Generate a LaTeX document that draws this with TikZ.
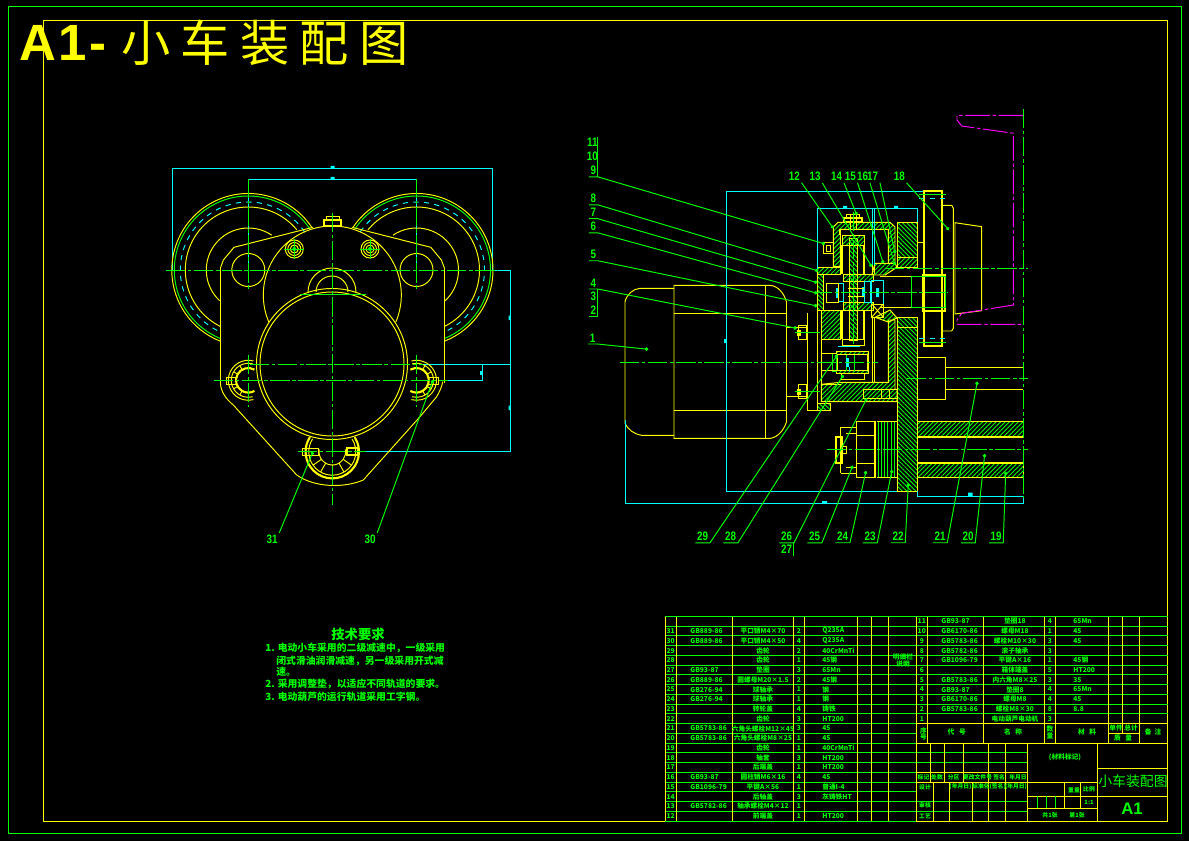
\documentclass[tikz,border=0pt]{standalone}
\usepackage{fontspec}
\setmainfont{Liberation Sans}
\newfontfamily\cjk{Noto Sans CJK SC}
\newfontfamily\labelfont[FakeStretch=0.8]{Liberation Sans}
\usetikzlibrary{arrows.meta, patterns.meta}
\definecolor{cadyellow}{HTML}{FFFF00}
\definecolor{cadgreen}{HTML}{00FF00}
\definecolor{cadcyan}{HTML}{00FFFF}
\definecolor{cadmagenta}{HTML}{FF00FF}
\tikzset{
  part/.style={draw=cadyellow, line width=.55pt},
  partthick/.style={draw=cadyellow, line width=1.2pt},
  cline/.style={draw=cadgreen, line width=.55pt, dash pattern=on 11pt off 1.5pt on 2pt off 1.5pt},
  thin line/.style={draw=cadgreen, line width=.55pt},
  dimline/.style={draw=cadcyan, line width=.55pt},
  hatchgreen/.style={pattern={Lines[angle=45,distance=1.8pt,line width=.5pt]}, pattern color=cadgreen, draw=cadyellow, line width=.55pt},
  hatchback/.style={pattern={Lines[angle=-45,distance=1.8pt,line width=.5pt]}, pattern color=cadgreen, draw=cadyellow, line width=.55pt},
  leader/.style={draw=cadgreen, line width=.55pt, -{Circle[length=2pt,width=2pt]}},
  labelnum/.style={text=cadgreen, inner sep=.8pt, font=\labelfont\bfseries\fontsize{7}{7}\selectfont},
  tabtext/.style={text=cadgreen, inner sep=0, font=\cjk\bfseries\fontsize{3.8}{4}\selectfont},
  blocktext/.style={text=cadgreen, inner sep=0, font=\cjk\bfseries\fontsize{3.3}{4}\selectfont},
  reqtext/.style={text=cadgreen, inner sep=0, anchor=west, font=\cjk\bfseries\fontsize{5.6}{6}\selectfont}
}
% arc about a centre: cx, cy, radius, start, end
\newcommand{\arcat}[6][part]{\draw[#1] ([shift={(#5:#4)}]#2,#3) arc[start angle=#5, end angle=#6, radius=#4];}
\begin{document}
\begin{tikzpicture}[x=0.02cm, y=-0.02cm]
  \useasboundingbox (0,0) rectangle (1189,841);
  \fill[black] (0,0) rectangle (1189,841);

  % Frames
  \draw[thin line] (8,6.5) rectangle (1181,833);
  \draw[part] (43,20) rectangle (1167.5,821);

  % Sheet title
  \node[text=cadyellow, anchor=west, inner sep=0, font=\bfseries\fontsize{29}{29}\selectfont\addfontfeature{LetterSpace=5}] (sheetcode) at (19,43) {A1-};
  \node[text=cadyellow, anchor=west, inner sep=0, font=\cjk\fontsize{28}{28}\selectfont\addfontfeature{LetterSpace=21}] (sheettitle) at (121,43) {小车装配图};

  % ---- Left view ----
  % Dimensions
  \draw[dimline] (172.3,270) -- (172.3,168.3) -- (492.7,168.3) -- (492.7,270) -- (510.7,270) -- (510.7,451.7) -- (366,451.7);
  \draw[dimline] (248.3,270) -- (248.3,179) -- (416.7,179) -- (416.7,270);
  \draw[dimline] (423,364.3) -- (511,364.3);
  \draw[dimline] (443,380.3) -- (482.3,380.3) -- (482.3,364.3);
  \fill[cadcyan] (330.5,166) rectangle (334.5,168.3) (330.5,177) rectangle (334.5,179);
  \fill[cadcyan] (508.5,315.5) rectangle (510.7,320) (508.5,405.5) rectangle (510.7,410);
  \fill[cadcyan] (480,370.5) rectangle (482.3,374.5);

  % Wheels, mirrored about the axis
  \foreach \mir in {1,-1} {
    \begin{scope}[shift={(332.4,0)}, xscale=\mir]
      \arcat{-84.1}{270}{76.5}{-34}{-248.5}
      \arcat[draw=cadgreen, line width=.55pt]{-84.1}{270}{74}{-33}{-248}
      \arcat[draw=cadcyan, line width=.55pt, dashed]{-84.1}{270}{68}{-34}{-246.5}
      \arcat{-84.1}{270}{63}{-39.6}{-243.4}
      \arcat{-84.1}{270}{42}{-56}{-227}
      \draw[part] (-84.1,270) circle[radius=16.5];
      % Arm to the body
      \draw[part] (-19.4,227.3) -- (-98.4,247.3) -- (-109,260) -- (-112,268);
      % Plate edge
      \draw[part] (-112,268.3) -- (-112,383);
      \draw[cline] (-84.1,179) -- (-84.1,290);
      % Lug
      \draw[part] (-84.1,380.3) ++(-75:20) arc[start angle=-75, end angle=-285, radius=20];
      \draw[part] (-84.1,380.3) ++(-75:17) arc[start angle=-75, end angle=-285, radius=17];
      \draw[partthick] (-84.1,380.3) ++(-60:12.3) arc[start angle=-60, end angle=-300, radius=12.3];
      \foreach \a in {-150,-120,120,150,90,-90} {
        \draw[part] ([shift={(\a:12.3)}]-84.1,380.3) -- ([shift={(\a:17)}]-84.1,380.3);
      }
      \draw[part] (-106,377) rectangle (-96,384);
      \draw[cline] (-84.1,355) -- (-84.1,406.7);
    \end{scope}
  }

  % Body outline
  \draw[part] (220.3,383) .. controls (221,392) and (226,399) .. (233.3,405) -- (296.7,475);
  \draw[part] (296.7,475) .. controls (315,488) and (345,488) .. (363.3,480) -- (420,416.7) -- (436.7,396.7) .. controls (440,391) and (442,386) .. (442.7,381.7);
  \arcat{332.3}{295}{69}{23}{-203}

  % Central drum
  \draw[part] (332,364) circle[radius=75.5];
  \draw[part] (332,364) circle[radius=72];
  \arcat{332}{292}{24}{-180}{0}
  \arcat{332}{292}{16}{-180}{0}
  \draw[thin line] (300,294) -- (366,294);

  % Top bolt
  \draw[partthick] (324,220) rectangle (340.7,226);
  \draw[part] (326,216) rectangle (339,220);

  % Cover bolts
  \foreach \bx in {294.3,370} {
    \draw[part] (\bx,249) circle[radius=9];
    \draw[part] (\bx,249) circle[radius=6.5];
    \draw[part] (\bx,249) circle[radius=4];
    \fill[cadgreen] (\bx,249) circle[radius=2];
    \draw[thin line] (\bx-10,249) -- (\bx+10,249) (\bx,239) -- (\bx,259);
  }

  % Bottom lug
  \arcat[partthick]{332.3}{451.7}{26.7}{-33}{213}
  \arcat{332.3}{451.7}{23.5}{-33}{213}
  \arcat{332.3}{451.7}{13.3}{-10}{190}
  \foreach \a in {35,60,90,120,145} {
    \draw[part] ([shift={(\a:13.3)}]332.3,451.7) -- ([shift={(\a:23.5)}]332.3,451.7);
  }
  \draw[part] (302,448) rectangle (318,455);
  \draw[partthick] (347,448) rectangle (358,455);

  % Centre lines
  \draw[cline] (166,270) -- (498,270);
  \draw[cline] (332.3,213) -- (332.3,505);
  \draw[cline] (250,364.3) -- (423,364.3);
  \draw[cline] (214,380.3) -- (448,380.3);
  \draw[cline] (298,451.7) -- (366,451.7);

  % ---- Right view ----
  % Motor
  \draw[part] (625,423) -- (625,301.7) .. controls (627,294) and (633,289) .. (640,288.3) -- (674,288.3);
  \draw[part] (625,423) .. controls (628,430) and (634,434) .. (641.7,435.3) -- (674,435.3);
  \draw[part] (674,285.3) -- (770,285.3) .. controls (778,286) and (784,293) .. (786.5,302) -- (786.5,421.7) .. controls (784,430) and (778,437) .. (770.7,438.3) -- (674,438.3) -- cycle;
  \draw[part] (674,313.3) -- (786.5,313.3) (674,410.3) -- (786.5,410.3) (765.3,285.3) -- (765.3,438.3);

  % Right plate and shaft bars
  \path[hatchback] (897,222.3) rectangle (917.3,257.3);
  \path[hatchgreen] (897,257.3) rectangle (917.3,267.3);
  \path[hatchback] (897,317.3) rectangle (917.3,327.3);
  \path[hatchback] (897,327.3) rectangle (917.3,491.3);
  \path[hatchgreen] (917.3,421.7) rectangle (1023.3,436.7);
  \path[hatchgreen] (917.3,462.7) rectangle (1023.3,477.7);
  \draw[partthick] (917.3,436.7) -- (1023.3,436.7) (917.3,462.7) -- (1023.3,462.7);

  % Gear housing
  \path[hatchgreen] (833.3,266.7) -- (833.3,227) -- (838,222.3) -- (890,222.3) -- (895,227) -- (895,263.3) -- (888.3,263.3) -- (888.3,229.3) -- (840.3,229.3) -- (840.3,266.7) -- cycle;
  \path[hatchgreen] (817.3,267.3) rectangle (840,274);
  \path[hatchback] (817.3,274) rectangle (823.3,310.7);
  \path[hatchgreen] (821.3,310.7) rectangle (840.7,339.3);
  \path[hatchgreen] (888.3,320) -- (888.3,382.3) -- (840.7,382.3) -- (821.3,384.3) -- (821.3,401.7) -- (897,401.7) -- (897,389.3) -- (895,389.3) -- (895,320) -- cycle;
  \path[hatchback] (817.3,403) rectangle (830.7,410.7);
  \path[hatchgreen] (875,263.3) -- (895,263.3) -- (897,267.3) -- (885,275) -- (871.7,275) -- cycle;
  \path[hatchgreen] (875,317.3) -- (890,310) -- (897,318) -- (888.3,322) -- cycle;

  % Big gear
  \path[hatchback] (849.3,238.3) rectangle (857.7,340);
  \path[hatchgreen] (842.7,235) rectangle (864,245);
  \path[hatchgreen] (843.3,274) rectangle (873.3,281.7);
  \path[hatchgreen] (843.3,302.3) rectangle (873.3,310);
  \draw[partthick] (842.3,245) -- (842.3,274) (864.3,245) -- (864.3,274) (842.3,310) -- (842.3,339.3) (864.3,310) -- (864.3,339.3);
  \draw[part] (839,229.3) -- (839,235) (872.7,222.3) -- (872.7,274) (874.3,222.3) -- (874.3,274);
  \draw[part] (872.7,317) -- (872.7,382.3) (874.3,317) -- (874.3,382.3);
  \draw[part] (842.7,339.3) rectangle (864,345);

  % Pinion
  \path[hatchgreen] (836.7,351) rectangle (868.3,354);
  \path[hatchgreen] (836.7,370) rectangle (868.3,373.3);
  \draw[partthick] (836.7,354) -- (836.7,370) (868.3,354) -- (868.3,370);
  \draw[part] (841,373.3) rectangle (864,379);
  \draw[thin line] (846,355) -- (846,371) (854,355) -- (854,371);
  \fill[cadcyan] (846,358) rectangle (849,367);
  \draw[dimline] (838,346) -- (860,346) (849,367) -- (849,371);
  \draw[thin line] (832,353) rectangle (836.7,371);

  % Input shaft detail
  \draw[dimline] (838.3,283.3) rectangle (843.3,301.7);
  \draw[dimline] (864,281.7) rectangle (870,302.3);
  \draw[dimline] (871.7,280) rectangle (883.3,304);
  \fill[cadcyan] (836,288) rectangle (838,298) (862,287) rectangle (865,297) (876,288) rectangle (879,297);
  \draw[part] (826,283) rectangle (838.3,302);
  \draw[part] (848,288) -- (864,288) (848,296) -- (864,296);
  \draw[part] (871.7,304) rectangle (883.3,317.3);
  \draw[part] (871.7,304) -- (883.3,317.3) (871.7,317.3) -- (883.3,304);

  % Housing lines
  \draw[part] (786.5,327.7) -- (807.3,327.7) (786.5,396.7) -- (807.3,396.7);
  \draw[part] (807.3,313.3) -- (807.3,410.7) -- (830.7,410.7) (817.3,310.7) -- (817.3,403) (821.3,339.3) -- (821.3,384.3);
  \draw[part] (821.3,339.3) -- (840.7,339.3) (821.3,353.3) -- (837,353.3) (821.3,370.7) -- (837,370.7) (821.3,384.3) -- (840.7,384.3);

  % Motor bolts
  \foreach \by in {332.5,391.5} {
    \draw[part] (798.3,\by-7) rectangle (806.7,\by+7);
    \fill[cadyellow] (797,\by-3) rectangle (801,\by+3);
    \draw[thin line] (795,\by) -- (820,\by);
  }
  \draw[part] (823.3,242.7) rectangle (833.3,253.3);
  \draw[part] (826,245) rectangle (830,251);
  \draw[partthick] (844,218.3) rectangle (861.7,222);
  \draw[part] (846.7,214.3) rectangle (859.3,218.3);
  \draw[part] (850,214.3) -- (850,230) (856,214.3) -- (856,230);

  % Bolt under the housing
  \draw[part] (863,389.3) rectangle (897,398.3);
  \draw[part] (881,389.3) -- (881,398.3) (889,389.3) -- (889,398.3);

  % Wheel section
  \draw[partthick] (924.3,191.3) rectangle (942.3,345.7);
  \draw[part] (942.3,205.3) -- (951.7,205.3) -- (953.3,208.3) -- (953.3,328.3) -- (951.7,331) -- (942.3,331);
  \draw[part] (955,222.7) -- (981.7,226.7) -- (981.7,310.7) -- (955,314) -- cycle;
  \draw[part] (917.3,242.3) -- (924.3,242.3);
  \draw[part] (880,276.7) -- (924.3,276.7) (880,307.3) -- (924.3,307.3);
  \draw[partthick] (922.7,274.7) rectangle (945,310.7);
  \draw[thin line] (911.7,276.7) rectangle (945,307.3);
  \draw[thin line] (919,194.3) -- (945.7,194.3) (919,342.3) -- (945.7,342.3);
  \draw[dimline, dashed] (919,198.3) -- (945.7,198.3) (919,338.3) -- (945.7,338.3);

  % Output shaft
  \draw[part] (917.3,357.3) -- (945.7,357.3) -- (945.7,399.3) -- (917.3,399.3);
  \draw[part] (945.7,367.3) -- (1023.3,367.3) (945.7,389.3) -- (1023.3,389.3);

  % Lower gear and nut
  \draw[part] (856.7,421.7) rectangle (875.7,477.7);
  \draw[part] (856.7,435.3) -- (875.7,435.3) (856.7,463.3) -- (875.7,463.3);
  \draw[partthick] (875,421.7) -- (875,477.7);
  \foreach \sx in {878,881.2,...,897} {
    \draw[draw=cadgreen, line width=.35pt] (\sx,421.7) -- (\sx,477.7);
  }
  \draw[part] (876.7,421.7) -- (897,421.7) (876.7,477.7) -- (897,477.7);
  \draw[part] (840.7,427.3) -- (856.7,427.3) (840.7,473.3) -- (856.7,473.3) (840.7,427.3) -- (840.7,473.3);
  \draw[part] (846,433) -- (856.7,433) (846,467) -- (856.7,467) (840.7,446) rectangle (846,453);
  \draw[partthick] (835.7,436.7) rectangle (841.7,463.3);

  % Rail
  \draw[draw=cadmagenta, line width=.55pt, dash pattern=on 14pt off 1.5pt on 2pt off 1.5pt] (1023.3,115.3) -- (957,115.3) -- (957,120) -- (961.7,126) -- (1013.3,133.3) -- (1013.3,305) -- (961.7,313.3) -- (957,320) -- (957,324.3) -- (1023.3,324.3);

  % Right view centre lines
  \draw[cline] (620,362.3) -- (878,362.3);
  \draw[cline] (813,292.7) -- (948,292.7);
  \draw[cline] (885,268.3) -- (1028,268.3);
  \draw[cline] (826.7,449.3) -- (1028,449.3);
  \draw[cline] (906.7,378.3) -- (1028,378.3);
  \draw[cline] (1023.3,109) -- (1023.3,503);
  \draw[cline] (853.5,212) -- (853.5,345);

  % Right view dimensions
  \draw[dimline] (625.5,420) -- (625.5,503.3) -- (1023.3,503.3) -- (1023.3,498);
  \draw[dimline] (726,491.3) -- (726,191.3) -- (923.3,191.3);
  \draw[dimline] (726,491.3) -- (897.3,491.3);
  \draw[dimline] (817.3,270) -- (817.3,208.3) -- (917.3,208.3) -- (917.3,222);
  \draw[dimline] (872.7,208.3) -- (872.7,265) (874.3,208.3) -- (874.3,265);
  \draw[dimline] (917.3,491.3) -- (917.3,496.7) -- (1023.3,496.7);
  \fill[cadcyan] (822,501) rectangle (827,503.3) (968,492.5) rectangle (972.5,496.7);
  \fill[cadcyan] (843,206) rectangle (847,208.3) (894,206) rectangle (898,208.3) (724,339) rectangle (726,343);

  % Part labels with a shelf and a leader
  \foreach \lname/\lx/\ly/\ex/\ey in {
    9/593.3/170.7/825/244, 8/593.3/198.7/818.3/271, 7/593.3/212.7/817.3/282.7,
    6/593.3/226.7/817.3/293.3, 5/593.3/254.7/817.3/306, 4/593.3/283/796.7/328.3,
    1/592.7/338/648.3/349.3,
    29/702.7/536.7/837.3/355, 28/730.7/536.7/843.3/375, 26/786.7/536.7/866.7/398.3,
    25/814.7/536.7/852.7/465.7, 24/842.7/536.7/866/471, 23/870/536.7/892/470,
    22/898/536.7/908.3/483.3, 21/940/536.7/977.3/381.7, 20/968/536.7/984.7/454,
    19/996/536.7/1005.7/471.7} {
    \node[labelnum] (n\lname) at (\lx,\ly) {\lname};
    \coordinate (e\lname) at (\ex,\ey);
    \draw[leader] (n\lname.south west) -- (n\lname.south east) -- (e\lname);
  }
  % Part labels on top with a leader only
  \foreach \lname/\lx/\ex/\ey in {
    12/794.3/833.3/228.3, 13/815/871.7/266.7, 14/836.7/856.7/215, 15/850.3/883.3/263.3,
    16/862.7/895/265, 17/872.7/895/253.3, 18/899.3/949/230} {
    \node[labelnum] (n\lname) at (\lx,176.7) {\lname};
    \coordinate (e\lname) at (\ex,\ey);
    \draw[leader] (n\lname.south east) -- (e\lname);
  }
  % Labels below the left view
  \foreach \lname/\lx/\ex/\ey in {31/272/313/451.7, 30/370/433/380} {
    \node[labelnum] (n\lname) at (\lx,539) {\lname};
    \coordinate (e\lname) at (\ex,\ey);
    \draw[leader] (n\lname.north east) -- (e\lname);
  }
  % Labels on a shared bracket
  \node[labelnum] (n11) at (592.3,142.7) {11};
  \node[labelnum] (n10) at (592.3,156.7) {10};
  \node[labelnum] (n3) at (593.3,296.7) {3};
  \node[labelnum] (n2) at (593.3,310) {2};
  \node[labelnum] (n27) at (786.7,549.5) {27};
  \draw[thin line] (n9.south east) -- (n9.south east |- n11.north);
  \draw[thin line] (n4.south east) -- (n4.south east |- n2.south);
  \draw[thin line] (n2.south west) -- (n2.south east);
  \draw[thin line] (n26.south east) -- (n26.south east |- n27.south);

  % ---- Technical notes ----
  \node[text=cadgreen, inner sep=0, font=\cjk\bfseries\fontsize{7.6}{8}\selectfont] (reqtitle) at (358,634) {技术要求};
  \node[reqtext] (req1) at (265,648) {1. 电动小车采用的二级减速中，一级采用};
  \node[reqtext] (req2) at (276,661) {闭式滑油润滑减速，另一级采用开式减};
  \node[reqtext] (req3) at (276,672) {速。};
  \node[reqtext] (req4) at (265,684) {2. 采用调整垫，以适应不同轨道的要求。};
  \node[reqtext] (req5) at (265,697) {3. 电动葫芦的运行轨道采用工字钢。};

  % ---- Parts list ----
  \foreach \ry in {0,...,10} {
    \draw[thin line] (665,616.5+\ry*9.738) -- (1167.5,616.5+\ry*9.738);
  }
  \foreach \ry in {11,...,21} {
    \draw[thin line] (665,616.5+\ry*9.738) -- (916.3,616.5+\ry*9.738);
  }
  \draw[thin line] (916.3,752.3) -- (1027.3,752.3) (916.3,762.3) -- (1027.3,762.3) (916.3,801.3) -- (1027.3,801.3) (916.3,811.3) -- (1027.3,811.3);
  \foreach \cx in {665,676.3,732.3,793.3,804.3,857.3,871.3,888.3,916.3} {
    \draw[part] (\cx,616.5) -- (\cx,821);
  }
  \foreach \cx in {927.3,983.3,1044.3,1055.3,1108.3,1139.3} {
    \draw[part] (\cx,616.5) -- (\cx,743.3);
  }
  \draw[part] (1122.3,616.5) -- (1122.3,733.3) (1108.3,733.3) -- (1139.3,733.3);
  \draw[part] (916.3,723.3) -- (1167.5,723.3) (916.3,743.3) -- (1167.5,743.3);

  \foreach \no/\code/\pname/\qty/\mat [count=\rr] in {
    31/GB889-86/平口销M4×70/2/Q235A, 30/GB889-86/平口销M4×50/4/Q235A,
    29//齿轮/2/40CrMnTi, 28//齿轮/1/45钢, 27/GB93-87/垫圈/3/65Mn,
    26/GB889-86/圆螺母M20×1.5/2/45钢, 25/GB276-94/球轴承/1/钢, 24/GB276-94/球轴承/1/钢,
    23//转轮盖/4/铸铁, 22//齿轮/3/HT200, 21/GB5783-86/六角头螺栓M12×45/3/45,
    20/GB5783-86/六角头螺栓M8×25/1/45, 19//齿轮/1/40CrMnTi, 18//轴套/3/HT200,
    17//后端盖/1/HT200, 16/GB93-87/圆柱销M6×16/4/45, 15/GB1096-79/平键A×56/1/普通I-4,
    14//后轴盖/3/灰铸铁HT, 13/GB5782-86/轴承螺栓M4×12/1/, 12//前端盖/1/HT200} {
    \pgfmathsetmacro{\yy}{616.5+(\rr+.5)*9.738}
    \node[tabtext] (lno\no) at (670.7,\yy) {\no};
    \node[tabtext, anchor=west] (lcode\no) at (690,\yy) {\code};
    \node[tabtext] (lname\no) at (763,\yy) {\pname};
    \node[tabtext] (lqty\no) at (799,\yy) {\qty};
    \node[tabtext, anchor=west] (lmat\no) at (822,\yy) {\mat};
  }
  \foreach \no/\code/\pname/\qty/\mat [count=\rr] in {
    11/GB93-87/垫圈18/4/65Mn, 10/GB6170-86/螺母M18/1/45, 9/GB5783-86/螺栓M10×30/3/45,
    8/GB5782-86/滚子轴承/3/, 7/GB1096-79/平键A×16/1/45钢, 6//箱体端盖/5/HT200,
    5/GB5783-86/内六角M8×25/3/35, 4/GB93-87/垫圈8/4/65Mn, 3/GB6170-86/螺母M8/4/45,
    2/GB5783-86/螺栓M8×30/8/8.8, 1//电动葫芦电动机/3/} {
    \pgfmathsetmacro{\yy}{616.5+(\rr-.5)*9.738}
    \node[tabtext] (rno\no) at (921.8,\yy) {\no};
    \node[tabtext, anchor=west] (rcode\no) at (941,\yy) {\code};
    \node[tabtext] (rname\no) at (1015,\yy) {\pname};
    \node[tabtext] (rqty\no) at (1050,\yy) {\qty};
    \node[tabtext, anchor=west] (rmat\no) at (1073,\yy) {\mat};
  }
  \node[tabtext, align=center] (noteblock) at (903,660.5) {明细栏\\说明};

  % List header
  \foreach \htext/\hx/\hy [count=\hi] in {序/923.5/731, 号/923.5/737, 代\ \ \ 号/956.7/732, 名\ \ \ 称/1013/732, 数/1050/729, 量/1050/736,
    材\ \ \ 料/1087/732, 单件/1116/728, 总计/1131/728, 质\ \ \ 量/1123/738, 备\ \ 注/1153/732} {
    \node[tabtext] (head\hi) at (\hx,\hy) {\htext};
  }

  % ---- Title block ----
  \foreach \cx in {930.3,944.3,963.3,988.3,1005.3} {
    \draw[part] (\cx,743.3) -- (\cx,782.3);
  }
  \foreach \cx in {933.3,949.3,972.3,988.3,1005.3} {
    \draw[part] (\cx,782.3) -- (\cx,821);
  }
  \draw[part] (916.3,772.3) -- (1027.3,772.3) (916.3,782.3) -- (1097.3,782.3);
  \draw[part] (1027.3,743.3) -- (1027.3,821) (1097.3,743.3) -- (1097.3,821);
  \draw[part] (1097.3,768.3) -- (1167.5,768.3) (1097.3,796.3) -- (1167.5,796.3);
  \draw[part] (1027.3,796.3) -- (1097.3,796.3) (1027.3,808.3) -- (1097.3,808.3);
  \draw[part] (1064.3,782.3) -- (1064.3,808.3) (1080.3,782.3) -- (1080.3,808.3);
  \draw[thin line] (1037.3,796.3) -- (1037.3,808.3) (1046.3,796.3) -- (1046.3,808.3) (1055.3,796.3) -- (1055.3,808.3);
  \foreach \htext/\hx/\hy [count=\hi] in {标记/923.5/777, 处数/937/777, 分区/953.7/777, 更改文件号\ 签名/984/777, 年月日/1018/777,
    设计/925/787, (年月日)/960.5/787, 标准化(签名)/989/787, (年月日)/1016/787,
    审核/925/805, 工艺/925/816, 重量/1074/790, 比例/1089/789, 1:1/1089/802, 共1张/1050/815.7, 第1张/1077/815.7} {
    \node[blocktext] (blk\hi) at (\hx,\hy) {\htext};
  }
  \node[tabtext] (matmark) at (1065,757) {(材料标记)};
  \node[text=cadgreen, inner sep=0, font=\cjk\fontsize{7.9}{8}\selectfont] (drawname) at (1133,781.7) {小车装配图};
  \node[text=cadgreen, inner sep=0, font=\bfseries\fontsize{9.5}{10}\selectfont] (drawsize) at (1132,808.7) {A1};
\end{tikzpicture}
\end{document}
